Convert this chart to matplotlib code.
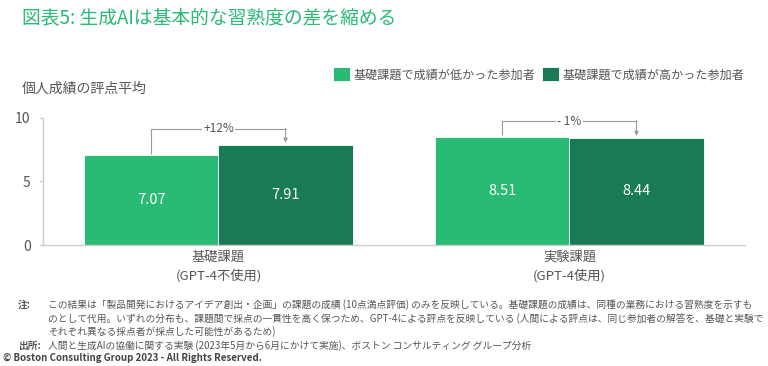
import matplotlib
matplotlib.use("Agg")
import matplotlib.pyplot as plt
import numpy as np

plt.rcParams['font.family'] = ['Noto Sans CJK JP', 'DejaVu Sans']

categories = ["基礎課題\n(GPT-4不使用)", "実験課題\n(GPT-4使用)"]
series_names = ["基礎課題で成績が低かった参加者", "基礎課題で成績が高かった参加者"]
low_scores = [7.07, 8.51]
high_scores = [7.91, 8.44]
changes = ["+12%", "- 1%"]

title = "図表5: 生成AIは基本的な習熟度の差を縮める"
ylabel = "個人成績の評点平均"
note_lines = [
    "この結果は「製品開発におけるアイデア創出・企画」の課題の成績 (10点満点評価) のみを反映している。基礎課題の成績は、同種の業務における習熟度を示すも",
    "のとして代用。いずれの分布も、課題間で採点の一貫性を高く保つため、GPT-4による評点を反映している (人間による評点は、同じ参加者の解答を、基礎と実験で",
    "それぞれ異なる採点者が採点した可能性があるため)",
]
source = "人間と生成AIの協働に関する実験 (2023年5月から6月にかけて実施)、ボストン コンサルティング グループ分析"
copyright_text = "© Boston Consulting Group 2023 - All Rights Reserved."

light = '#29BA74'
dark = '#197A56'
gray = '#555555'

fig = plt.figure(figsize=(7.68, 3.66), dpi=100)
ax = fig.add_axes([0.056, 0.3306, 0.914, 0.347])

x = np.arange(len(categories))
w = 0.382
b1 = ax.bar(x - w / 2, low_scores, w, color=light, edgecolor='white', linewidth=0.6)
b2 = ax.bar(x + w / 2, high_scores, w, color=dark, edgecolor='white', linewidth=0.6)

for bars in (b1, b2):
    for r in bars:
        v = r.get_height()
        ax.text(r.get_x() + r.get_width() / 2, v / 2, f"{v:.2f}", ha='center', va='center',
                color='white', fontsize=10.5)

# change brackets
for i in range(len(categories)):
    x0 = x[i] - w / 2
    x1 = x[i] + w / 2
    y0 = low_scores[i] + 0.12
    y1 = high_scores[i] + 0.15
    top = max(low_scores[i], high_scores[i]) + 1.25
    ax.plot([x0, x0, x1], [y0, top, top], color='#999999', lw=0.8, solid_capstyle='butt')
    ax.annotate("", xy=(x1, y1), xytext=(x1, top + 0.02),
                arrowprops=dict(arrowstyle='-|>', color='#999999', lw=0.8,
                                mutation_scale=6, shrinkA=0, shrinkB=0))
    ax.text(x[i], top, changes[i], ha='center', va='center', fontsize=8.5, color=gray,
            bbox=dict(facecolor='white', edgecolor='none', pad=1))

ax.set_xlim(-0.5, 1.5)
ax.set_ylim(0, 10)
ax.set_yticks([0, 5, 10])
ax.set_xticks(x)
ax.set_xticklabels(categories, fontsize=9.5, color=gray, linespacing=1.5)
ax.tick_params(axis='x', length=0, pad=4)
ax.tick_params(axis='y', length=3, color='#cccccc', labelsize=10, labelcolor=gray, pad=6)
for s in ['top', 'right']:
    ax.spines[s].set_visible(False)
for s in ['left', 'bottom']:
    ax.spines[s].set_color('#cccccc')
    ax.spines[s].set_linewidth(1.0)

fig.text(0.029, 0.948, title, fontsize=13.5, color=light, va='center', ha='left')
fig.text(0.029, 0.757, ylabel, fontsize=10, color=gray, va='center', ha='left')

# legend
leg = fig.legend([b1, b2], series_names, loc='center right', bbox_to_anchor=(0.976, 0.797),
                 ncol=2, frameon=False, fontsize=8.7, handlelength=1.4, handleheight=1.4,
                 handletextpad=0.35, columnspacing=0.5, borderaxespad=0)
for t in leg.get_texts():
    t.set_color(gray)

# footer
fig.text(0.023, 0.167, "注:", fontsize=7, color=gray, fontweight='bold', va='center')
for j, line in enumerate(note_lines):
    fig.text(0.062, 0.167 - j * 0.036, line, fontsize=7, color=gray, va='center')
fig.text(0.023, 0.055, "出所:", fontsize=7, color=gray, fontweight='bold', va='center')
fig.text(0.062, 0.055, source, fontsize=7, color=gray, va='center')
fig.text(0.004, 0.022, copyright_text, fontsize=7, color='#444444', fontweight='bold', va='center')

fig.savefig('out.png', dpi=100)
